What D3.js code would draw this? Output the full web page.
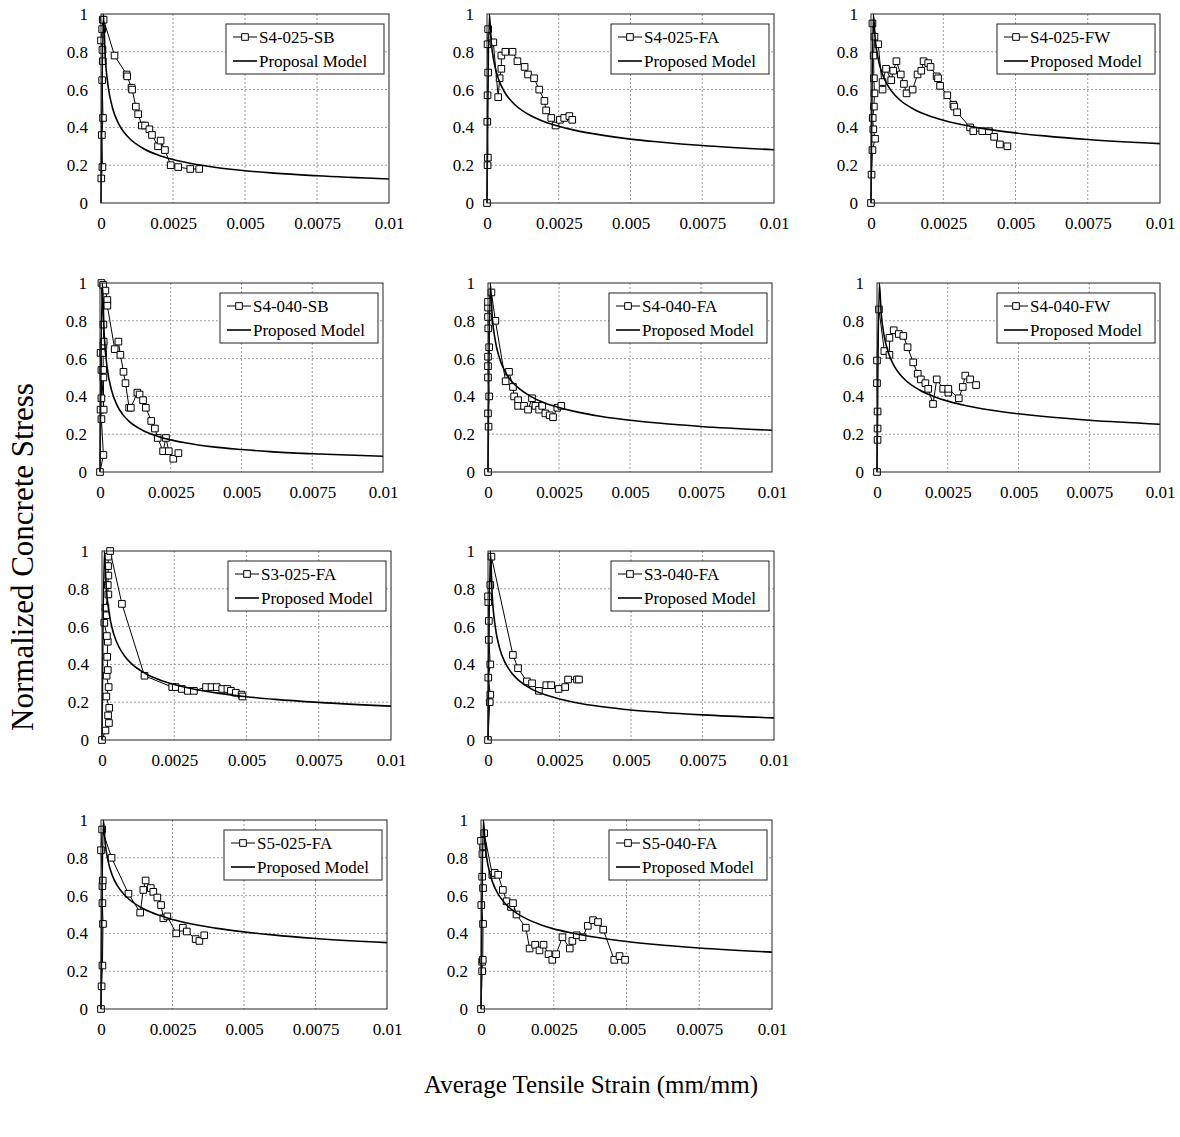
<!DOCTYPE html>
<html>
<head>
<meta charset="utf-8">
<script src="https://cdn.jsdelivr.net/npm/d3@7"></script>
<style>
  body { margin: 0; background: #fff; }
  svg text { font-family: "Liberation Serif", "Times New Roman", serif; fill: #000; }
</style>
</head>
<body>
<svg id="chart" width="1180" height="1137"></svg>
<script>
// ---------- axis ticks ----------
const strainTicks = [0, 0.0025, 0.005, 0.0075, 0.01];
const strainTickLabels = ["0", "0.0025", "0.005", "0.0075", "0.01"];
const stressTicks = [0, 0.2, 0.4, 0.6, 0.8, 1];
const stressTickLabels = ["0", "0.2", "0.4", "0.6", "0.8", "1"];

// ---------- specimen names and legend labels ----------
const specimens = ["S4-025-SB", "S4-025-FA", "S4-025-FW", "S4-040-SB", "S4-040-FA",
                   "S4-040-FW", "S3-025-FA", "S3-040-FA", "S5-025-FA", "S5-040-FA"];
const modelLabels = ["Proposal Model", "Proposed Model", "Proposed Model", "Proposed Model",
                     "Proposed Model", "Proposed Model", "Proposed Model", "Proposed Model",
                     "Proposed Model", "Proposed Model"];

// ---------- measured response [strain, normalized stress] ----------
const testS4_025_SB = [[0.00001,0.13],[0.00005,0.19],[0.00003,0.36],[0.00007,0.45],[0.00004,0.65],[0.00006,0.75],[0.00005,0.81],[0.0,0.86],[0.00004,0.92],[0.00006,0.97],[0.00009,0.97],[0.00047,0.78],[0.00089,0.68],[0.00091,0.67],[0.00106,0.61],[0.00108,0.60],[0.00121,0.51],[0.00129,0.47],[0.00142,0.41],[0.00153,0.41],[0.00168,0.39],[0.00177,0.36],[0.00198,0.30],[0.00207,0.33],[0.00222,0.28],[0.00242,0.20],[0.00268,0.19],[0.00310,0.18],[0.00341,0.18]];
const testS4_025_FA = [[0,0],[0.00002,0.20],[0.00003,0.24],[0.00001,0.43],[0.00002,0.57],[0.00004,0.69],[0.00002,0.84],[0.00004,0.92],[0.00022,0.85],[0.00039,0.56],[0.00044,0.66],[0.0005,0.71],[0.0005,0.78],[0.00064,0.80],[0.00089,0.80],[0.00106,0.75],[0.00131,0.72],[0.00143,0.68],[0.00164,0.66],[0.00182,0.60],[0.002,0.54],[0.00206,0.49],[0.00224,0.45],[0.00239,0.41],[0.00254,0.44],[0.00269,0.45],[0.00287,0.46],[0.00297,0.44]];
const testS4_025_FW = [[0,0],[0.00002,0.15],[0.00005,0.28],[0.00014,0.34],[0.00008,0.39],[0.00006,0.45],[0.0001,0.51],[0.00012,0.58],[0.0001,0.66],[0.00009,0.78],[0.00012,0.88],[0.00005,0.95],[0.00025,0.84],[0.0004,0.60],[0.0004,0.64],[0.00052,0.71],[0.0007,0.65],[0.00077,0.70],[0.00088,0.75],[0.00103,0.68],[0.00114,0.63],[0.00123,0.58],[0.00144,0.60],[0.00161,0.68],[0.00174,0.70],[0.00182,0.75],[0.00198,0.74],[0.00206,0.72],[0.00227,0.67],[0.00232,0.66],[0.00239,0.62],[0.00264,0.57],[0.00285,0.52],[0.00288,0.51],[0.00298,0.48],[0.00343,0.40],[0.00354,0.38],[0.00385,0.38],[0.00408,0.38],[0.00426,0.35],[0.00446,0.31],[0.00472,0.30]];
const testS4_040_SB = [[0,0],[0.00012,0.09],[0.00005,0.28],[0.00002,0.33],[0.00005,0.39],[0.00005,0.54],[0.00002,0.63],[0.00013,0.33],[0.00012,0.50],[0.00011,0.54],[0.00011,0.63],[0.00012,0.67],[0.00013,0.69],[0.00012,0.78],[0.00005,1.0],[0.00011,0.99],[0.00019,0.96],[0.00026,0.91],[0.00026,0.88],[0.00052,0.65],[0.00065,0.69],[0.00072,0.62],[0.00083,0.53],[0.0009,0.47],[0.00103,0.34],[0.00109,0.34],[0.00132,0.42],[0.0014,0.41],[0.00152,0.38],[0.00162,0.34],[0.00181,0.27],[0.00194,0.23],[0.00204,0.18],[0.00223,0.11],[0.00233,0.18],[0.00243,0.11],[0.00259,0.07],[0.00277,0.10]];
const testS4_040_FA = [[0,0],[0.00002,0.24],[0,0.31],[0.00004,0.40],[0,0.50],[0,0.56],[0,0.61],[0.00004,0.66],[0.00001,0.76],[0,0.82],[0,0.87],[0,0.90],[0.00012,0.95],[0.00026,0.80],[0.00062,0.48],[0.00074,0.53],[0.00088,0.45],[0.00092,0.40],[0.00106,0.38],[0.00106,0.35],[0.00127,0.35],[0.00141,0.33],[0.00155,0.39],[0.00167,0.35],[0.0018,0.33],[0.00191,0.35],[0.00202,0.31],[0.00217,0.30],[0.00229,0.29],[0.00244,0.34],[0.00258,0.35]];
const testS4_040_FW = [[0,0],[0.00002,0.17],[0.00002,0.23],[0.00002,0.32],[0,0.47],[0,0.59],[0.00007,0.86],[0.00026,0.64],[0.00044,0.62],[0.00044,0.71],[0.00059,0.75],[0.00077,0.73],[0.00093,0.72],[0.00108,0.66],[0.00128,0.58],[0.00144,0.52],[0.00155,0.49],[0.00171,0.47],[0.00181,0.44],[0.00198,0.36],[0.00211,0.49],[0.00234,0.44],[0.00252,0.42],[0.00252,0.44],[0.00289,0.39],[0.00303,0.45],[0.00312,0.51],[0.00329,0.49],[0.0035,0.46]];
const testS3_025_FA = [[0,0],[0.00012,0.05],[0.00024,0.09],[0.00021,0.13],[0.00025,0.17],[0.00015,0.23],[0.00023,0.28],[0.00016,0.34],[0.0002,0.37],[0.00018,0.44],[0.0002,0.52],[0.00017,0.55],[0.00008,0.62],[0.00015,0.66],[0.00012,0.70],[0.00022,0.77],[0.0002,0.82],[0.00022,0.87],[0.00021,0.92],[0.00022,0.97],[0.00028,1.0],[0.00069,0.72],[0.00147,0.34],[0.00243,0.28],[0.00255,0.28],[0.00276,0.27],[0.00297,0.26],[0.00318,0.26],[0.0036,0.28],[0.00379,0.28],[0.00397,0.28],[0.00416,0.27],[0.00434,0.27],[0.00446,0.26],[0.00463,0.25],[0.00483,0.24],[0.00486,0.23]];
const testS3_040_FA = [[0,0],[0.00006,0.20],[0.00008,0.24],[0.00001,0.33],[0.00008,0.40],[0.00003,0.53],[0.00003,0.63],[0.00001,0.73],[0,0.76],[0.00008,0.82],[0.00012,0.97],[0.00087,0.45],[0.00105,0.38],[0.00136,0.31],[0.00154,0.30],[0.00178,0.26],[0.00204,0.29],[0.00221,0.29],[0.00247,0.27],[0.0027,0.28],[0.0028,0.32],[0.00311,0.32],[0.00318,0.32]];
const testS5_025_FA = [[0,0],[0.00002,0.12],[0.00005,0.23],[0.00007,0.45],[0.00005,0.56],[0.00005,0.65],[0.00006,0.68],[0,0.84],[0.00004,0.95],[0.00037,0.80],[0.00096,0.61],[0.00137,0.51],[0.00148,0.63],[0.00156,0.68],[0.00174,0.64],[0.00183,0.62],[0.00197,0.59],[0.0021,0.55],[0.00218,0.48],[0.00232,0.49],[0.00263,0.40],[0.00286,0.43],[0.003,0.41],[0.00331,0.37],[0.00344,0.36],[0.00361,0.39]];
const testS5_040_FA = [[0,0],[0.00004,0.20],[0.00004,0.25],[0.00006,0.26],[0.00007,0.45],[0.00001,0.55],[0.00007,0.64],[0.00004,0.70],[0.00005,0.82],[0.00007,0.86],[0,0.89],[0.00011,0.93],[0.00039,0.71],[0.00047,0.72],[0.00059,0.71],[0.00075,0.63],[0.00088,0.57],[0.00103,0.54],[0.0011,0.56],[0.00122,0.50],[0.00154,0.43],[0.00167,0.32],[0.00186,0.34],[0.00201,0.31],[0.00215,0.34],[0.00232,0.29],[0.00245,0.26],[0.00258,0.29],[0.0028,0.38],[0.00305,0.32],[0.00314,0.36],[0.00329,0.39],[0.00349,0.38],[0.00367,0.44],[0.00385,0.47],[0.00402,0.46],[0.0042,0.42],[0.00458,0.26],[0.00476,0.28],[0.00495,0.26]];

// ---------- proposed model curves (strain stations shared by all specimens) ----------
const modelStrain = [0, 0.00008, 0.00015, 0.00025, 0.0004, 0.0006, 0.0008, 0.001, 0.0015, 0.002, 0.0025, 0.003, 0.004, 0.005, 0.006, 0.0075, 0.01];
const modelS4_025_SB = [0, 1, 0.765, 0.615, 0.503, 0.423, 0.374, 0.340, 0.286, 0.253, 0.230, 0.213, 0.188, 0.171, 0.158, 0.144, 0.127];
const modelS4_025_FA = [0, 1, 0.848, 0.742, 0.656, 0.590, 0.547, 0.516, 0.464, 0.430, 0.406, 0.387, 0.359, 0.338, 0.323, 0.304, 0.282];
const modelS4_025_FW = [0, 1, 0.860, 0.761, 0.680, 0.617, 0.575, 0.545, 0.495, 0.462, 0.438, 0.419, 0.391, 0.371, 0.355, 0.336, 0.314];
const modelS4_040_SB = [0, 1, 0.723, 0.556, 0.437, 0.354, 0.305, 0.272, 0.221, 0.191, 0.170, 0.155, 0.133, 0.119, 0.108, 0.0965, 0.083];
const modelS4_040_FA = [0, 1, 0.821, 0.700, 0.604, 0.532, 0.486, 0.454, 0.400, 0.365, 0.341, 0.322, 0.294, 0.274, 0.259, 0.241, 0.221];
const modelS4_040_FW = [0, 1, 0.836, 0.723, 0.632, 0.563, 0.519, 0.487, 0.434, 0.400, 0.375, 0.356, 0.328, 0.308, 0.292, 0.274, 0.253];
const modelS3_025_FA = [0, 1, 0.800, 0.667, 0.564, 0.488, 0.441, 0.407, 0.352, 0.318, 0.294, 0.275, 0.248, 0.229, 0.215, 0.199, 0.179];
const modelS3_040_FA = [0, 1, 0.756, 0.603, 0.489, 0.409, 0.360, 0.326, 0.272, 0.239, 0.217, 0.200, 0.176, 0.159, 0.147, 0.133, 0.117];
const modelS5_025_FA = [0, 1, 0.872, 0.781, 0.705, 0.646, 0.607, 0.578, 0.529, 0.497, 0.474, 0.455, 0.428, 0.408, 0.392, 0.373, 0.351];
const modelS5_040_FA = [0, 1, 0.855, 0.753, 0.670, 0.605, 0.564, 0.533, 0.482, 0.449, 0.424, 0.406, 0.378, 0.357, 0.341, 0.323, 0.301];

const testSeries = [testS4_025_SB, testS4_025_FA, testS4_025_FW, testS4_040_SB, testS4_040_FA,
                    testS4_040_FW, testS3_025_FA, testS3_040_FA, testS5_025_FA, testS5_040_FA];
const modelSeries = [modelS4_025_SB, modelS4_025_FA, modelS4_025_FW, modelS4_040_SB, modelS4_040_FA,
                     modelS4_040_FW, modelS3_025_FA, modelS3_040_FA, modelS5_025_FA, modelS5_040_FA];

// ---------- page layout: plot frame of each panel ----------
const panelFrames = [
  { left: 101, right: 389, top: 14,  bottom: 203 },
  { left: 487, right: 774, top: 14,  bottom: 203 },
  { left: 871, right: 1160, top: 14, bottom: 203 },
  { left: 100, right: 383, top: 283, bottom: 472 },
  { left: 488, right: 772, top: 283, bottom: 472 },
  { left: 877, right: 1160, top: 283, bottom: 472 },
  { left: 102, right: 391, top: 551, bottom: 740 },
  { left: 488, right: 774, top: 551, bottom: 740 },
  { left: 101, right: 387, top: 820, bottom: 1009 },
  { left: 481, right: 772, top: 820, bottom: 1009 }
];

const svg = d3.select("#chart");
const square = d3.symbol().type(d3.symbolSquare).size(44);

specimens.forEach((name, i) => {
  const f = panelFrames[i];
  const x = d3.scaleLinear().domain([0, 0.01]).range([f.left, f.right]);
  const y = d3.scaleLinear().domain([0, 1]).range([f.bottom, f.top]);
  const g = svg.append("g");

  // background + dashed grid
  g.append("rect").attr("x", f.left).attr("y", f.top)
    .attr("width", f.right - f.left).attr("height", f.bottom - f.top).attr("fill", "#fff");
  g.selectAll(".vg").data(strainTicks.slice(1, -1)).join("line")
    .attr("x1", d => x(d)).attr("x2", d => x(d)).attr("y1", f.top).attr("y2", f.bottom)
    .attr("stroke", "#9a9a9a").attr("stroke-width", 1).attr("stroke-dasharray", "2,2");
  g.selectAll(".hg").data(stressTicks.slice(1, -1)).join("line")
    .attr("y1", d => y(d)).attr("y2", d => y(d)).attr("x1", f.left).attr("x2", f.right)
    .attr("stroke", "#9a9a9a").attr("stroke-width", 1).attr("stroke-dasharray", "2,2");

  // axes (labels only)
  const xAxis = d3.axisBottom(x).tickValues(strainTicks).tickSize(0).tickPadding(14)
    .tickFormat((d, k) => strainTickLabels[k]);
  const yAxis = d3.axisLeft(y).tickValues(stressTicks).tickSize(0).tickPadding(13)
    .tickFormat((d, k) => stressTickLabels[k]);
  const gx = g.append("g").attr("transform", `translate(0,${f.bottom})`).call(xAxis);
  const gy = g.append("g").attr("transform", `translate(${f.left},0)`).call(yAxis);
  [gx, gy].forEach(a => {
    a.select(".domain").remove();
    a.selectAll("text").attr("font-size", 17)
      .attr("font-family", "'Liberation Serif','Times New Roman',serif").attr("fill", "#000");
  });

  // measured response: thin line with open squares
  const pts = testSeries[i];
  const lineGen = d3.line().x(d => x(d[0])).y(d => y(d[1]));
  g.append("path").datum(pts).attr("d", lineGen)
    .attr("fill", "none").attr("stroke", "#000").attr("stroke-width", 1);
  g.selectAll(".mk").data(pts).join("path")
    .attr("d", square)
    .attr("transform", d => `translate(${x(d[0])},${y(d[1])})`)
    .attr("fill", "#fff").attr("stroke", "#000").attr("stroke-width", 1);

  // proposed model curve
  const model = modelStrain.map((s, k) => [s, modelSeries[i][k]]);
  const modelGen = d3.line().curve(d3.curveMonotoneX).x(d => x(d[0])).y(d => y(d[1]));
  g.append("path").datum(model).attr("d", modelGen)
    .attr("fill", "none").attr("stroke", "#000").attr("stroke-width", 1.6);

  // frame
  g.append("rect").attr("x", f.left).attr("y", f.top)
    .attr("width", f.right - f.left).attr("height", f.bottom - f.top)
    .attr("fill", "none").attr("stroke", "#222").attr("stroke-width", 1);

  // legend
  const lw = 158, lh = 50;
  const bx = f.right - 5 - lw, by = f.top + 10;
  const lg = g.append("g");
  lg.append("rect").attr("x", bx).attr("y", by).attr("width", lw).attr("height", lh)
    .attr("fill", "#fff").attr("stroke", "#222").attr("stroke-width", 1);
  lg.append("line").attr("x1", bx + 7).attr("x2", bx + 31).attr("y1", by + 13).attr("y2", by + 13)
    .attr("stroke", "#000").attr("stroke-width", 1);
  lg.append("path").attr("d", square).attr("transform", `translate(${bx + 19},${by + 13})`)
    .attr("fill", "#fff").attr("stroke", "#000").attr("stroke-width", 1);
  lg.append("text").attr("x", bx + 33).attr("y", by + 13).attr("dy", "0.35em")
    .attr("font-size", 17).text(name);
  lg.append("line").attr("x1", bx + 7).attr("x2", bx + 31).attr("y1", by + 37).attr("y2", by + 37)
    .attr("stroke", "#000").attr("stroke-width", 1.6);
  lg.append("text").attr("x", bx + 33).attr("y", by + 37).attr("dy", "0.35em")
    .attr("font-size", 17).text(modelLabels[i]);
});

// shared axis titles
svg.append("text").attr("transform", "translate(33,557) rotate(-90)")
  .attr("text-anchor", "middle").attr("font-size", 31).text("Normalized Concrete Stress");
svg.append("text").attr("x", 591).attr("y", 1093)
  .attr("text-anchor", "middle").attr("font-size", 25).text("Average Tensile Strain (mm/mm)");
</script>
</body>
</html>
